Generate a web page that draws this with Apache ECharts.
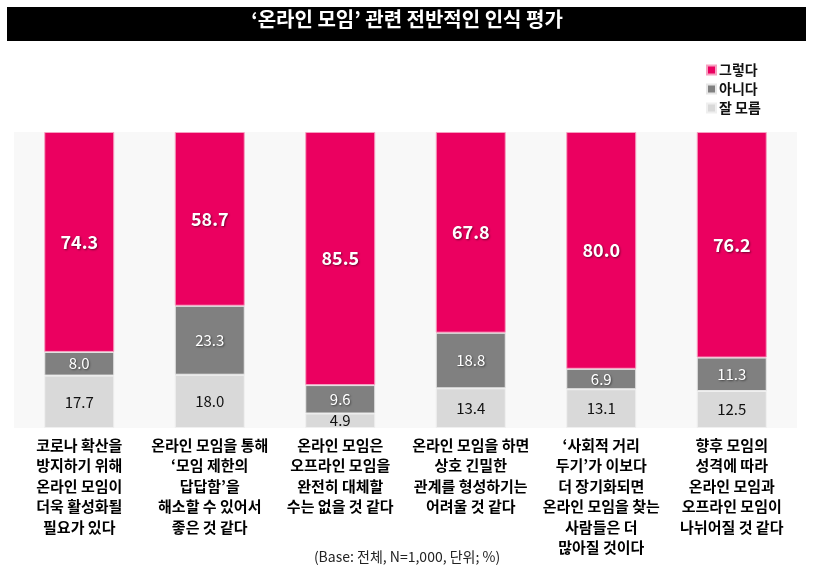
<!DOCTYPE html>
<html>
<head>
<meta charset="utf-8">
<script src="https://cdn.jsdelivr.net/npm/echarts@6/dist/echarts.min.js"></script>
<style>
  html, body { margin: 0; padding: 0; background: #fff; }
  #chart { width: 814px; height: 586px; }
</style>
</head>
<body>
<div id="chart"></div>
<script>
// 항목 (줄바꿈 포함)
var categories = [
  '코로나 확산을\n방지하기 위해\n온라인 모임이\n더욱 활성화될\n필요가 있다',
  '온라인 모임을 통해\n‘모임 제한의\n답답함’을\n해소할 수 있어서\n좋은 것 같다',
  '온라인 모임은\n오프라인 모임을\n완전히 대체할\n수는 없을 것 같다',
  '온라인 모임을 하면\n상호 긴밀한\n관계를 형성하기는\n어려울 것 같다',
  '‘사회적 거리\n두기’가 이보다\n더 장기화되면\n온라인 모임을 찾는\n사람들은 더\n많아질 것이다',
  '향후 모임의\n성격에 따라\n온라인 모임과\n오프라인 모임이\n나뉘어질 것 같다'
];
var yesValues = [74.3, 58.7, 85.5, 67.8, 80.0, 76.2];
var noValues = [8.0, 23.3, 9.6, 18.8, 6.9, 11.3];
var dunnoValues = [17.7, 18.0, 4.9, 13.4, 13.1, 12.5];

var FONT = '"Noto Sans CJK KR", "Noto Sans", sans-serif';

var chart = echarts.init(document.getElementById('chart'));

var fmt = function (p) { return p.value.toFixed(1); };

chart.setOption({
  animation: false,
  textStyle: { fontFamily: FONT },
  graphic: [
    {
      type: 'rect',
      shape: { x: 7, y: 7, width: 799, height: 34 },
      style: { fill: '#000' }
    },
    {
      type: 'text',
      left: 'center',
      top: 550,
      style: {
        text: '(Base: 전체, N=1,000, 단위; %)',
        font: '14px ' + FONT,
        fill: '#222'
      }
    }
  ],
  title: {
    text: '‘온라인 모임’ 관련 전반적인 인식 평가',
    left: 'center',
    top: 9,
    padding: 0,
    textStyle: { color: '#fff', fontSize: 20, fontWeight: 'bold', fontFamily: FONT }
  },
  legend: {
    orient: 'vertical',
    left: 701,
    top: 58,
    itemWidth: 9,
    itemHeight: 9,
    itemGap: 5,
    icon: 'rect',
    data: ['그렇다', '아니다', '잘 모름'],
    textStyle: { fontSize: 14, color: '#111', fontWeight: 'bold', padding: [0, 0, 0, -2] }
  },
  grid: {
    left: 14,
    right: 17,
    top: 132,
    bottom: 158,
    show: true,
    backgroundColor: '#F8F8F8',
    borderWidth: 0
  },
  xAxis: {
    type: 'category',
    data: categories,
    axisLine: { show: false },
    axisTick: { show: false },
    axisLabel: {
      interval: 0,
      margin: 7,
      fontSize: 15,
      lineHeight: 20.5,
      fontWeight: 'bold',
      color: '#000',
      fontFamily: FONT
    }
  },
  yAxis: {
    type: 'value',
    min: 0,
    max: 100,
    show: false,
    splitLine: { show: false }
  },
  series: [
    {
      name: '잘 모름',
      type: 'bar',
      stack: 'total',
      barWidth: 70,
      data: dunnoValues,
      itemStyle: { color: '#D9D9D9', borderColor: '#EFEFEF', borderWidth: 1 },
      label: {
        show: true,
        position: 'inside',
        formatter: fmt,
        color: '#111',
        fontSize: 15
      }
    },
    {
      name: '아니다',
      type: 'bar',
      stack: 'total',
      data: noValues,
      itemStyle: { color: '#808080', borderColor: '#E6E6E6', borderWidth: 1 },
      label: {
        show: true,
        position: 'inside',
        formatter: fmt,
        color: '#fff',
        fontSize: 15,
        textShadowColor: 'rgba(0,0,0,0.5)',
        textShadowBlur: 2,
        textShadowOffsetX: 1,
        textShadowOffsetY: 1
      }
    },
    {
      name: '그렇다',
      type: 'bar',
      stack: 'total',
      data: yesValues,
      itemStyle: { color: '#EB0060', borderColor: '#F6A0C0', borderWidth: 1 },
      label: {
        show: true,
        position: 'inside',
        formatter: fmt,
        color: '#fff',
        fontSize: 18,
        fontWeight: 'bold',
        textShadowColor: 'rgba(0,0,0,0.5)',
        textShadowBlur: 2,
        textShadowOffsetX: 1,
        textShadowOffsetY: 1
      }
    }
  ]
});
</script>
</body>
</html>
